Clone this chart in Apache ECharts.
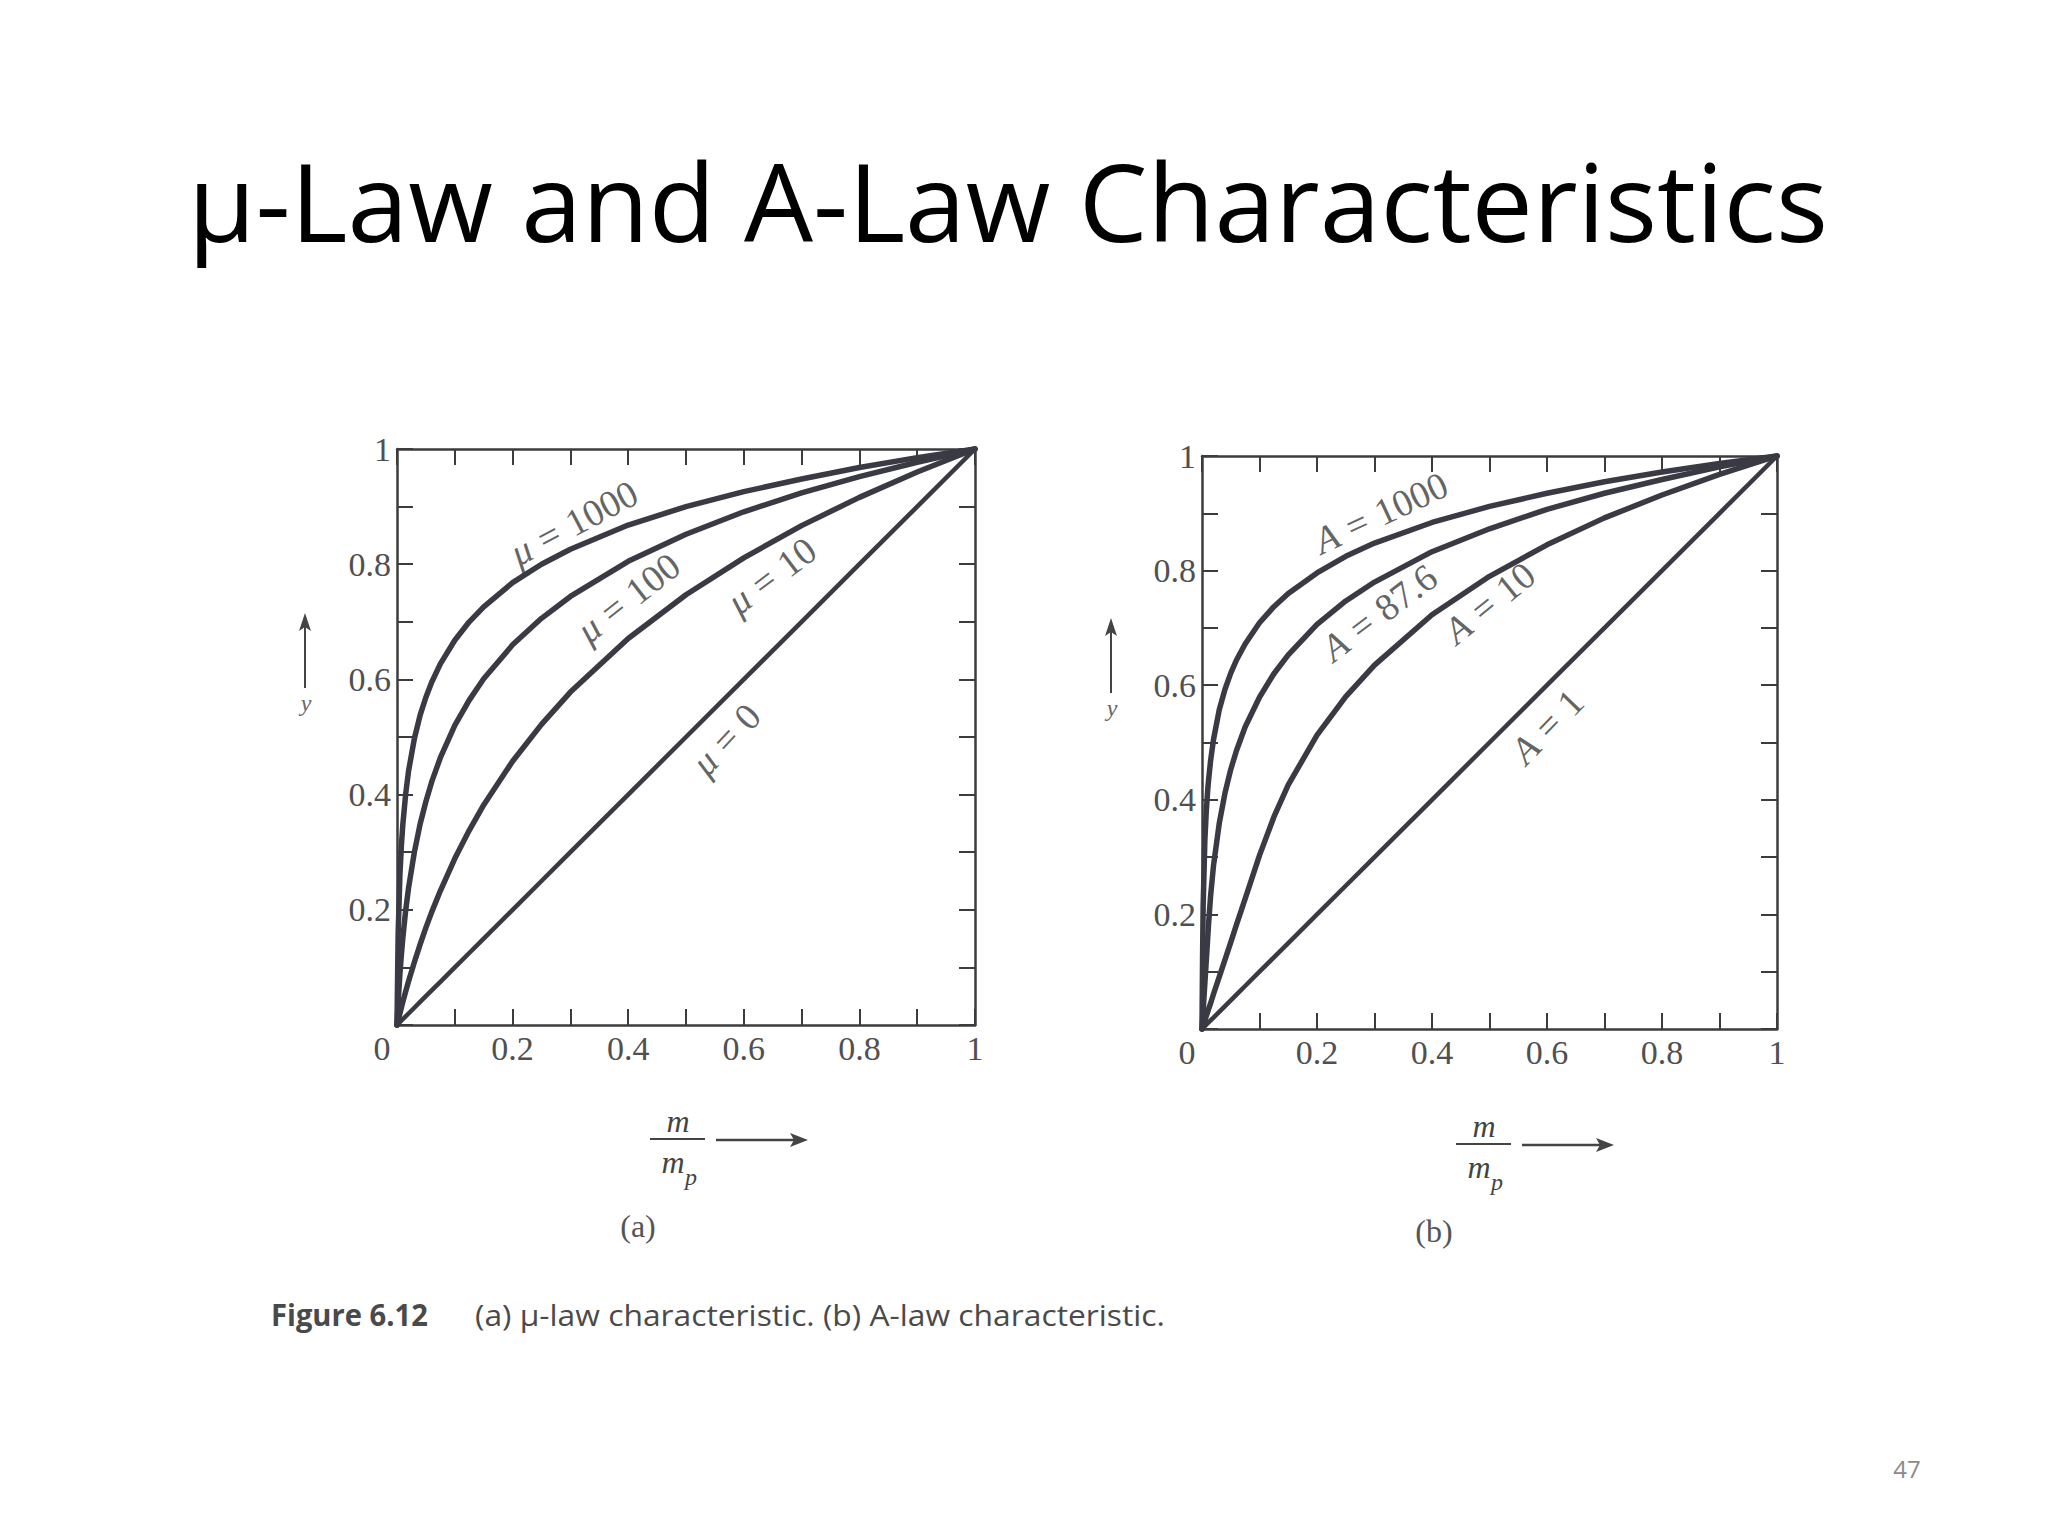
<!DOCTYPE html>
<html>
<head>
<meta charset="utf-8">
<script src="https://cdn.jsdelivr.net/npm/echarts@6/dist/echarts.min.js"></script>
<style>
html,body{margin:0;padding:0;background:#fff;}
#c{width:2048px;height:1536px;}
</style>
</head>
<body>
<div id="c"></div>
<script>
// ---------- DATA ----------
const TITLE = 'μ-Law and A-Law Characteristics';
const CAPTION_HEAD = 'Figure 6.12';
const CAPTION_TEXT = '(a) μ-law characteristic. (b) A-law characteristic.';
const PAGE_NUMBER = '47';
const PANEL_TAGS = ['(a)', '(b)'];

const xTickValues = [0, 0.2, 0.4, 0.6, 0.8, 1];
const xTickLabels = ['0', '0.2', '0.4', '0.6', '0.8', '1'];
const yTickValues = [0.2, 0.4, 0.6, 0.8, 1];
const yTickLabels = ['0.2', '0.4', '0.6', '0.8', '1'];

// (a) mu-law curves, m/mp on x, y on y
const muX    = [0, 0.002, 0.005, 0.0075, 0.01, 0.015, 0.02, 0.03, 0.04, 0.05, 0.06, 0.075, 0.1, 0.125, 0.15, 0.2, 0.25, 0.3, 0.4, 0.5, 0.6, 0.7, 0.8, 0.9, 1];
const mu1000 = [0, 0.159, 0.259, 0.310, 0.347, 0.401, 0.441, 0.497, 0.538, 0.569, 0.595, 0.627, 0.668, 0.700, 0.726, 0.768, 0.800, 0.826, 0.868, 0.900, 0.926, 0.948, 0.968, 0.985, 1];
const mu100  = [0, 0.040, 0.088, 0.121, 0.150, 0.199, 0.238, 0.300, 0.349, 0.388, 0.422, 0.464, 0.520, 0.564, 0.601, 0.660, 0.706, 0.744, 0.805, 0.852, 0.891, 0.924, 0.952, 0.977, 1];
const mu10   = [0, 0.008, 0.020, 0.030, 0.040, 0.058, 0.076, 0.109, 0.140, 0.169, 0.196, 0.233, 0.289, 0.338, 0.382, 0.458, 0.522, 0.578, 0.671, 0.747, 0.811, 0.867, 0.916, 0.960, 1];
const mu0    = [0, 0.002, 0.005, 0.0075, 0.01, 0.015, 0.02, 0.03, 0.04, 0.05, 0.06, 0.075, 0.1, 0.125, 0.15, 0.2, 0.25, 0.3, 0.4, 0.5, 0.6, 0.7, 0.8, 0.9, 1];
const muNames = ['μ = 1000', 'μ = 100', 'μ = 10', 'μ = 0'];

// (b) A-law curves
const aX    = [0, 0.001, 0.002, 0.005, 0.0075, 0.01, 0.0114, 0.015, 0.02, 0.03, 0.04, 0.05, 0.06, 0.075, 0.1, 0.125, 0.15, 0.2, 0.25, 0.3, 0.4, 0.5, 0.6, 0.7, 0.8, 0.9, 1];
const a1000 = [0, 0.127, 0.214, 0.330, 0.381, 0.418, 0.434, 0.469, 0.505, 0.557, 0.593, 0.621, 0.644, 0.672, 0.709, 0.737, 0.760, 0.796, 0.825, 0.848, 0.884, 0.912, 0.935, 0.955, 0.972, 0.987, 1];
const a876  = [0, 0.016, 0.032, 0.080, 0.120, 0.160, 0.183, 0.233, 0.285, 0.359, 0.412, 0.453, 0.486, 0.527, 0.579, 0.620, 0.653, 0.706, 0.747, 0.780, 0.833, 0.873, 0.907, 0.935, 0.959, 0.981, 1];
const a10   = [0, 0.003, 0.006, 0.015, 0.023, 0.030, 0.035, 0.045, 0.061, 0.091, 0.121, 0.151, 0.182, 0.227, 0.303, 0.370, 0.426, 0.513, 0.580, 0.635, 0.723, 0.790, 0.845, 0.892, 0.932, 0.968, 1];
const a1    = [0, 0.001, 0.002, 0.005, 0.0075, 0.01, 0.0114, 0.015, 0.02, 0.03, 0.04, 0.05, 0.06, 0.075, 0.1, 0.125, 0.15, 0.2, 0.25, 0.3, 0.4, 0.5, 0.6, 0.7, 0.8, 0.9, 1];
const aNames = ['A = 1000', 'A = 87.6', 'A = 10', 'A = 1'];

// ---------- LAYOUT / STYLE ----------
const LABEL_LAYOUT_MU = [
  {at: [0.306, 0.872], rot: 28},
  {at: [0.400, 0.742], rot: 38},
  {at: [0.648, 0.780], rot: 37},
  {at: [0.569, 0.496], rot: 47}
];
const LABEL_LAYOUT_A = [
  {at: [0.311, 0.901], rot: 25},
  {at: [0.308, 0.727], rot: 37},
  {at: [0.500, 0.744], rot: 39},
  {at: [0.600, 0.528], rot: 46}
];
const GRIDS = [
  {left: 397, top: 449, width: 578, height: 576},
  {left: 1202, top: 456, width: 575, height: 573}
];
const INK = '#3a3a44';
const AXIS_INK = '#3c3c3c';
const LABEL_INK = '#505050';
const SERIF = '"Liberation Serif", "DejaVu Serif", serif';

// ---------- HELPERS ----------
const measureCtx = document.createElement('canvas').getContext('2d');
function textWidth(text, font) { measureCtx.font = font; return measureCtx.measureText(text).width; }
function fitScale(text, font, target) { return target / textWidth(text, font); }

const xLabelMap = {}; xTickValues.forEach((v, i) => { xLabelMap[Math.round(v * 10)] = xTickLabels[i]; });
const yLabelMap = {}; yTickValues.forEach((v, i) => { yLabelMap[Math.round(v * 10)] = yTickLabels[i]; });
function fmtX(v) {
  const k = Math.round(v * 10);
  const t = xLabelMap[k];
  if (t === undefined) return '';
  return k === 0 ? '{z|' + t + '}' : t;
}
function fmtY(v) {
  const t = yLabelMap[Math.round(v * 10)];
  return t === undefined ? '' : t;
}
function pairs(xs, ys) { return xs.map((x, i) => [x, ys[i]]); }

const labelFont = {fontFamily: SERIF, fontSize: 34, color: LABEL_INK};
function axisBase(extra) {
  return Object.assign({
    type: 'value', min: 0, max: 1, interval: 0.1,
    axisLine: {show: true, onZero: false, lineStyle: {color: AXIS_INK, width: 2.5}},
    axisTick: {show: true, inside: true, length: 16, lineStyle: {color: AXIS_INK, width: 2}},
    splitLine: {show: false}
  }, extra);
}

const xAxes = [], yAxes = [];
GRIDS.forEach((g, gi) => {
  xAxes.push(axisBase({gridIndex: gi, position: 'bottom',
    axisLabel: Object.assign({show: true, margin: 6, formatter: fmtX,
      rich: {z: Object.assign({padding: [0, 30, 0, 0]}, labelFont)}}, labelFont)}));
  xAxes.push(axisBase({gridIndex: gi, position: 'top', axisLabel: {show: false}}));
  yAxes.push(axisBase({gridIndex: gi, position: 'left',
    axisLabel: Object.assign({show: true, margin: 6, formatter: fmtY}, labelFont)}));
  yAxes.push(axisBase({gridIndex: gi, position: 'right', axisLabel: {show: false}}));
});

function curve(xs, ys, axisIdx, width) {
  return {
    type: 'line', xAxisIndex: axisIdx, yAxisIndex: axisIdx,
    data: pairs(xs, ys), showSymbol: false, symbol: 'none', clip: false, smooth: false,
    lineStyle: {color: INK, width: width, cap: 'round', join: 'round'},
    silent: true, z: 3
  };
}
const CL_SIZE = 38;
function curveLabels(names, layout, axisIdx) {
  return {
    type: 'scatter', xAxisIndex: axisIdx, yAxisIndex: axisIdx, symbolSize: 0, silent: true, z: 5,
    data: names.map((n, i) => ({name: n, value: layout[i].at, label: {rotate: layout[i].rot}})),
    label: {
      show: true, position: 'inside', align: 'center', verticalAlign: 'middle',
      fontFamily: SERIF, fontSize: CL_SIZE, color: '#3a3a3a',
      formatter: p => p.name.replace(/^(\S+) = (\S+)$/, '{i|$1}{e|=}$2'),
      rich: {
        i: {fontFamily: SERIF, fontSize: CL_SIZE, fontStyle: 'italic', color: '#3a3a3a'},
        e: {fontFamily: SERIF, fontSize: CL_SIZE, color: '#3a3a3a', padding: [0, 11, 0, 11]}
      }
    }
  };
}

const series = [
  curve(muX, mu1000, 0, 5.5), curve(muX, mu100, 0, 5.5), curve(muX, mu10, 0, 5.5), curve(muX, mu0, 0, 4.5),
  curveLabels(muNames, LABEL_LAYOUT_MU, 0),
  curve(aX, a1000, 2, 5.5), curve(aX, a876, 2, 5.5), curve(aX, a10, 2, 5.5), curve(aX, a1, 2, 4.5),
  curveLabels(aNames, LABEL_LAYOUT_A, 2)
];

// ---------- GRAPHIC TEXT / DECORATIONS ----------
const graphics = [];
const titleFont = '108px "Open Sans"';
graphics.push({type: 'text', x: 188, y: 200, scaleX: fitScale(TITLE, titleFont, 1640), z: 10,
  style: {text: TITLE, font: titleFont, fill: '#000', align: 'left', verticalAlign: 'middle', textAlign: 'left', textVerticalAlign: 'middle'}});
const capHeadFont = 'bold 30px "Open Sans"';
graphics.push({type: 'text', x: 271, y: 1314, scaleX: fitScale(CAPTION_HEAD, capHeadFont, 157), z: 10,
  style: {text: CAPTION_HEAD, font: capHeadFont, fill: '#4a4a4a', align: 'left', verticalAlign: 'middle', textAlign: 'left', textVerticalAlign: 'middle'}});
const capFont = '30px "Open Sans"';
graphics.push({type: 'text', x: 475, y: 1314, scaleX: fitScale(CAPTION_TEXT, capFont, 690), z: 10,
  style: {text: CAPTION_TEXT, font: capFont, fill: '#4a4a4a', align: 'left', verticalAlign: 'middle', textAlign: 'left', textVerticalAlign: 'middle'}});
graphics.push({type: 'text', x: 1907, y: 1468, z: 10,
  style: {text: PAGE_NUMBER, font: '24px "Open Sans"', fill: '#8a8a8a', align: 'center', verticalAlign: 'middle', textAlign: 'center', textVerticalAlign: 'middle'}});

function panelDecor(dx, dy, tag, tagDx) {
  const ink = '#444';
  const t = (x, y, text, font, fill, ox) => ({type: 'text', x: x + (ox === undefined ? dx : ox), y: y + dy, z: 10,
    style: {text: text, font: font, fill: fill || ink, align: 'center', verticalAlign: 'middle', textAlign: 'center', textVerticalAlign: 'middle'}});
  const ital = 'italic 32px ' + SERIF;
  graphics.push(t(678, 1121, 'm', ital));
  graphics.push({type: 'line', z: 10, shape: {x1: 650 + dx, y1: 1139 + dy, x2: 705 + dx, y2: 1139 + dy}, style: {stroke: ink, lineWidth: 2}});
  graphics.push(t(673, 1162, 'm', ital));
  graphics.push(t(691, 1177, 'p', 'italic 24px ' + SERIF));
  // x arrow
  graphics.push({type: 'line', z: 10, shape: {x1: 716 + dx, y1: 1140 + dy, x2: 800 + dx, y2: 1140 + dy}, style: {stroke: ink, lineWidth: 2.5}});
  graphics.push({type: 'polygon', z: 10, shape: {points: [[808 + dx, 1140 + dy], [790 + dx, 1133 + dy], [794 + dx, 1140 + dy], [790 + dx, 1147 + dy]]}, style: {fill: ink}});
  // panel tag
  graphics.push(t(638, 1226, tag, '32px ' + SERIF, '#555', tagDx));
  // y arrow
  graphics.push({type: 'line', z: 10, shape: {x1: 305 + dx, y1: 688 + dy, x2: 305 + dx, y2: 622 + dy}, style: {stroke: ink, lineWidth: 2}});
  graphics.push({type: 'polygon', z: 10, shape: {points: [[305 + dx, 613 + dy], [299 + dx, 631 + dy], [305 + dx, 627 + dy], [311 + dx, 631 + dy]]}, style: {fill: ink}});
  graphics.push(t(306, 703, 'y', 'italic 24px ' + SERIF, '#666'));
}
panelDecor(0, 0, PANEL_TAGS[0], 0);
panelDecor(806, 5, PANEL_TAGS[1], 796);

const chart = echarts.init(document.getElementById('c'), null, {renderer: 'svg', width: 2048, height: 1536});
chart.setOption({
  backgroundColor: '#fff',
  animation: false,
  grid: GRIDS.map(g => Object.assign({containLabel: false}, g)),
  xAxis: xAxes,
  yAxis: yAxes,
  series: series,
  graphic: graphics
});
</script>
</body>
</html>
